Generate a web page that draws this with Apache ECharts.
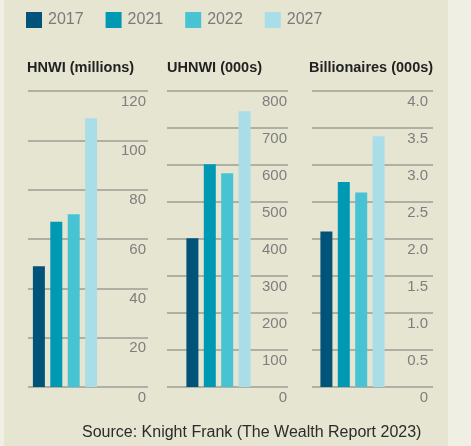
<!DOCTYPE html>
<html>
<head>
<meta charset="utf-8">
<script src="https://cdn.jsdelivr.net/npm/echarts@6/dist/echarts.min.js"></script>
<style>
  html, body { margin: 0; padding: 0; background: #eff0e3; }
  #chart { width: 471px; height: 446px; }
</style>
</head>
<body>
<div id="chart"></div>
<script>
// years shown in the legend
var years = ['2017', '2021', '2022', '2027'];
var yearColors = ['#02537a', '#0099b4', '#48c3d3', '#a9dde7'];

// panel titles
var panelTitles = ['HNWI (millions)', 'UHNWI (000s)', 'Billionaires (000s)'];

// values per panel, in year order
var hnwi = [49, 67, 70, 109];
var uhnwi = [402, 602, 578, 745];
var billionaires = [2.1, 2.77, 2.63, 3.39];

// axis ticks per panel
var hnwiTicks = [0, 20, 40, 60, 80, 100, 120];
var uhnwiTicks = [0, 100, 200, 300, 400, 500, 600, 700, 800];
var billTicks = [0, 0.5, 1.0, 1.5, 2.0, 2.5, 3.0, 3.5, 4.0];

var panelValues = [hnwi, uhnwi, billionaires];
var panelTicks = [hnwiTicks, uhnwiTicks, billTicks];

var chart = echarts.init(document.getElementById('chart'));

var font = 'Liberation Sans, Arial, sans-serif';
// gridline area [left, width] and bar area [left, width] per panel
var lineBox = [[28, 120], [167, 121], [312, 121]];
var barBox = [[28, 74], [167, 103], [312, 81]];
var titleLeft = [27, 167, 309];
var labelMargin = [2, 1, 5];
var plotTop = 91, plotHeight = 296;

var grids = [], xAxes = [], yAxes = [], series = [], titles = [];

panelTitles.forEach(function (t, p) {
    var ticks = panelTicks[p];
    var step = ticks[1] - ticks[0];
    var decimals = p === 2;
    titles.push({
        text: t, left: titleLeft[p], top: 60, padding: 0,
        textStyle: {fontFamily: font, fontSize: 14.5, fontWeight: 'bold', color: '#222'}
    });
    // grid with gridlines and labels
    grids.push({left: lineBox[p][0], width: lineBox[p][1], top: plotTop, height: plotHeight});
    xAxes.push({gridIndex: p * 2, type: 'value', show: false});
    yAxes.push({
        gridIndex: p * 2, type: 'value', position: 'right',
        min: ticks[0], max: ticks[ticks.length - 1], interval: step,
        axisLine: {show: false}, axisTick: {show: false},
        splitLine: {lineStyle: {color: '#9d9c93', width: 1.5}},
        axisLabel: {
            inside: true, margin: labelMargin[p], verticalAlign: 'top', padding: [3, 0, 0, 0],
            fontFamily: font, fontSize: 15, color: '#7e7e7e',
            formatter: function (v) { return (decimals && v !== 0) ? v.toFixed(1) : String(v); }
        }
    });
    // grid holding the bars
    grids.push({left: barBox[p][0], width: barBox[p][1], top: plotTop, height: plotHeight});
    xAxes.push({gridIndex: p * 2 + 1, type: 'category', data: [t], show: false});
    yAxes.push({
        gridIndex: p * 2 + 1, type: 'value', show: false,
        min: ticks[0], max: ticks[ticks.length - 1], interval: step
    });
    years.forEach(function (y, i) {
        series.push({
            name: y, type: 'bar',
            xAxisIndex: p * 2 + 1, yAxisIndex: p * 2 + 1,
            data: [panelValues[p][i]],
            barWidth: 12, barGap: '45%',
            itemStyle: {color: yearColors[i]}
        });
    });
});

titles.push({
    text: 'Source: Knight Frank (The Wealth Report 2023)', left: 82, top: 425, padding: 0,
    textStyle: {fontFamily: font, fontSize: 16, fontWeight: 'normal', color: '#2b2b2b'}
});

chart.setOption({
    animation: false,
    backgroundColor: '#eff0e3',
    color: yearColors,
    graphic: [{
        type: 'rect', z: -10, silent: true,
        shape: {x: 4, y: 0, width: 444, height: 446},
        style: {fill: '#e6e5d2'}
    }],
    title: titles,
    legend: {
        data: years, left: 26, top: 12, padding: 0,
        icon: 'rect', itemWidth: 16, itemHeight: 16, itemGap: 22,
        textStyle: {fontFamily: font, fontSize: 16, color: '#7a7a7a', padding: [0, 0, 0, 1]}
    },
    grid: grids,
    xAxis: xAxes,
    yAxis: yAxes,
    series: series
});
</script>
</body>
</html>
